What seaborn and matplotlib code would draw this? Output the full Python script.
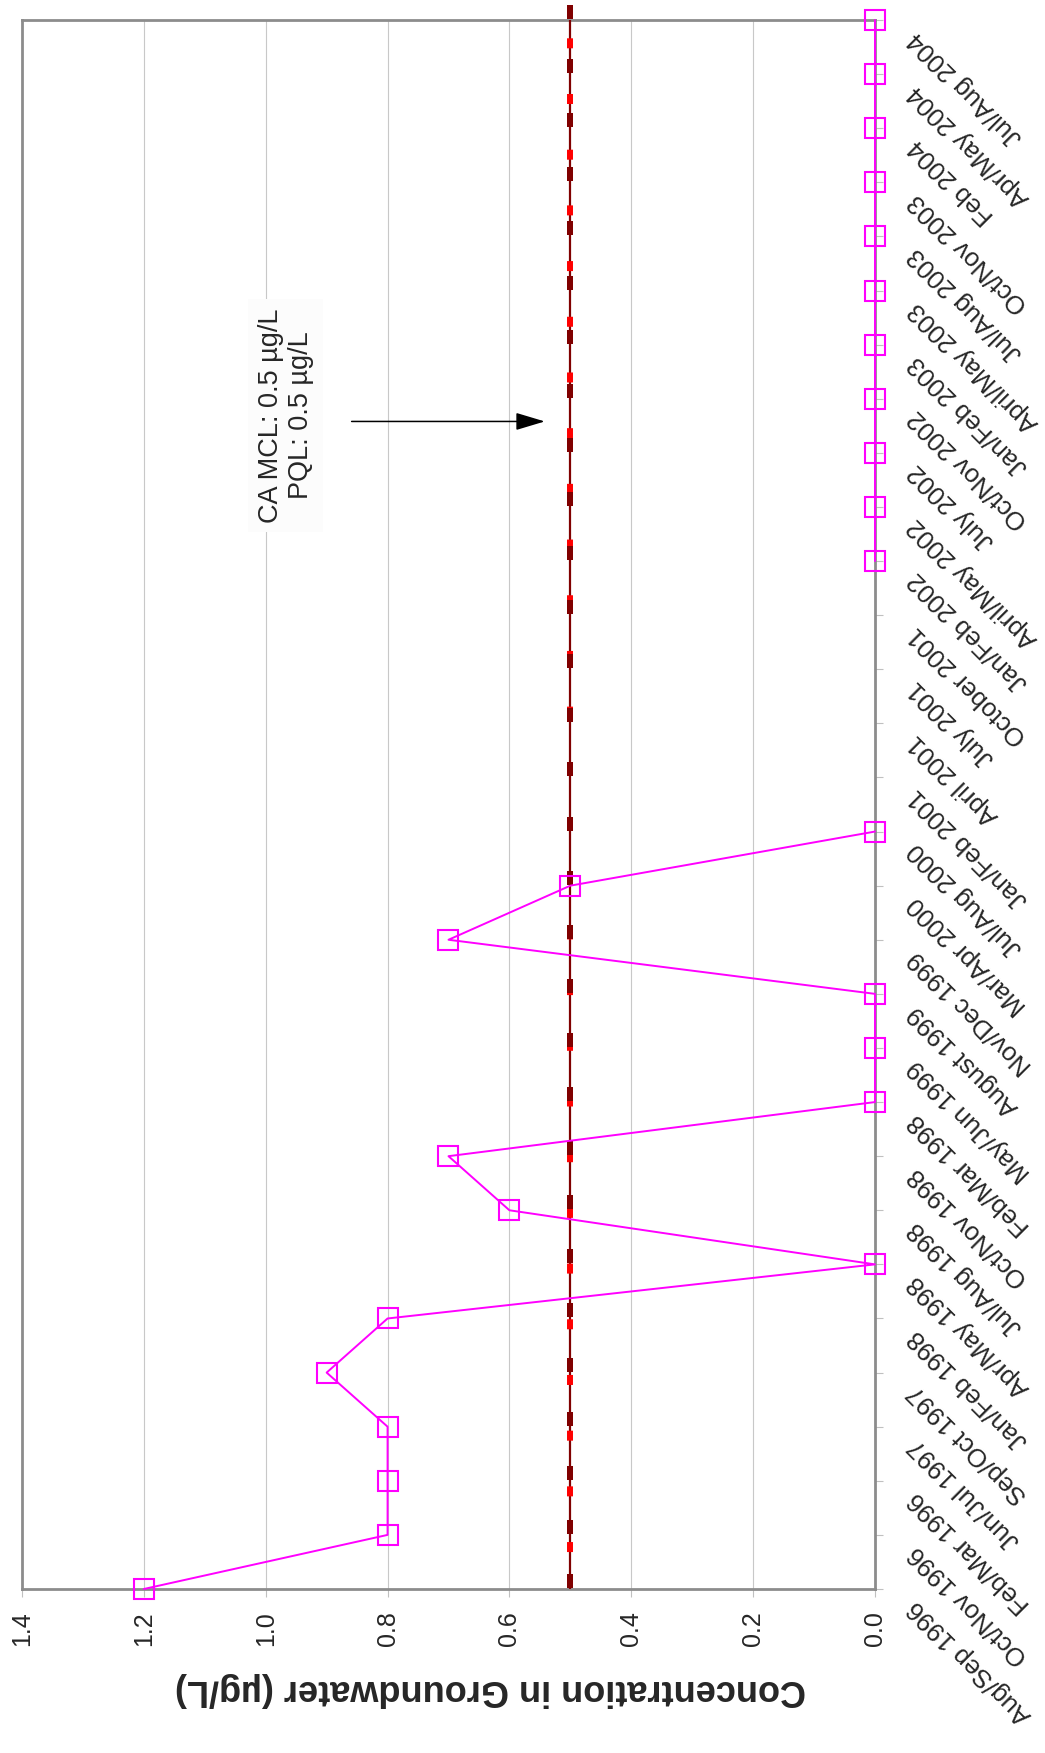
import numpy as np
import pandas as pd
import seaborn as sns
import matplotlib.pyplot as plt
from matplotlib.path import Path
from matplotlib.transforms import ScaledTranslation

sns.set_style('white')
plt.rcParams['font.family'] = ['Liberation Sans', 'DejaVu Sans']
plt.rcParams['lines.scale_dashes'] = False

# sampling events, oldest first (labels kept as printed on the chart)
periods = ['Aug/Sep 1996', 'Oct/Nov 1996', 'Feb/Mar 1996', 'Jun/Jul 1997', 'Sep/Oct 1997',
           'Jan/Feb 1998', 'Apr/May 1998', 'Jul/Aug 1998', 'Oct/Nov 1998', 'Feb/Mar 1998',
           'May/Jun 1999', 'August 1999', 'Nov/Dec 1999', 'Mar/Apr 2000', 'Jul/Aug 2000',
           'Jan/Feb 2001', 'April 2001', 'July 2001', 'October 2001', 'Jan/Feb 2002',
           'April/May 2002', 'July 2002', 'Oct/Nov 2002', 'Jan/Feb 2003', 'April/May 2003',
           'Jul/Aug 2003', 'Oct/Nov 2003', 'Feb 2004', 'Apr/May 2004', 'Jul/Aug 2004']
# concentration in µg/L, nan = not sampled
conc = [1.2, 0.8, 0.8, 0.8, 0.9, 0.8, 0.0, 0.6, 0.7, 0.0,
        0.0, 0.0, 0.7, 0.5, 0.0, np.nan, np.nan, np.nan, np.nan, 0.0,
        0.0, 0.0, 0.0, 0.0, 0.0, 0.0, 0.0, 0.0, 0.0, 0.0]
mcl_level = 0.5
pql_level = 0.5
value_ticks = [0.0, 0.2, 0.4, 0.6, 0.8, 1.0, 1.2, 1.4]

df = pd.DataFrame({'period': periods, 'conc': conc})
df['pos'] = np.arange(len(df))
df['seg'] = df['conc'].isna().cumsum()   # break the line at missing events
samples = df.dropna()
limits = pd.DataFrame({'pos': df['pos'], 'mcl': mcl_level, 'pql': pql_level})

fig = plt.figure(figsize=(10.45, 17.53), dpi=100)
ax = fig.add_axes([22/1045, 164/1753, 853/1045, 1569/1753])

# PQL - red dashes
sns.lineplot(data=limits, x='pql', y='pos', sort=False, estimator=None, color='#ff0000',
             lw=4.3, linestyle=(13.5, (7.2, 32.9)), legend=False, ax=ax, zorder=3)

# MCL - dark red line with bar markers
bar = Path([(-3.35, 0.65), (3.35, 0.65), (3.35, 15.15), (-3.35, 15.15), (-3.35, 0.65)],
           [Path.MOVETO, Path.LINETO, Path.LINETO, Path.LINETO, Path.CLOSEPOLY])
sns.lineplot(data=limits, x='mcl', y='pos', sort=False, estimator=None, color='#800000',
             lw=1.6, legend=False, ax=ax, zorder=2.8)
sns.lineplot(data=limits, x='mcl', y='pos', sort=False, estimator=None, color='#800000',
             lw=0, marker=bar, markersize=21.8, markeredgewidth=0, markerfacecolor='#800000',
             clip_on=False, legend=False, ax=ax, zorder=4)

# measured concentrations
sns.lineplot(data=samples, x='conc', y='pos', units='seg', estimator=None, sort=False,
             color='#ff00ff', lw=1.4, marker='s', markersize=14, markerfacecolor='none',
             markeredgecolor='#ff00ff', markeredgewidth=1.5, clip_on=False,
             legend=False, ax=ax, zorder=5)

ax.set_xlim(1.4, 0)
ax.set_ylim(0, len(periods) - 1)
ax.set_xlabel('')
ax.set_ylabel('')

ax.grid(axis='x', color='#c8c8c8', lw=0.8)
ax.grid(axis='y', visible=False)
for s in ax.spines.values():
    s.set_color('#8c8c8c')
    s.set_linewidth(2)

ax.tick_params(axis='x', bottom=True, direction='out', length=6, width=0.8,
               color='#c0c0c0', pad=10, labelsize=18, labelrotation=90)
ax.tick_params(axis='y', left=False, right=True, labelleft=False, labelright=True,
               direction='out', length=6, width=0.8, color='#c0c0c0', pad=21)
ax.set_xticks(value_ticks)
ax.set_xticklabels([f'{v:.1f}' for v in value_ticks])
ax.set_yticks(df['pos'])
ax.set_yticklabels(periods, rotation=135, ha='right', va='center',
                   rotation_mode='anchor', fontsize=18.5)
shift = ScaledTranslation(0, -0.15, fig.dpi_scale_trans)
for lbl in ax.get_yticklabels():
    lbl.set_transform(lbl.get_transform() + shift)

ax.text(0.967, 21.69, 'CA MCL: 0.5 µg/L\nPQL: 0.5 µg/L', rotation=90, ha='center',
        va='center', multialignment='center', fontsize=19.5, zorder=4,
        bbox=dict(boxstyle='square,pad=0.35', fc='#fcfcfc', ec='none'))
ax.annotate('', xy=(0.542, 21.58), xytext=(0.859, 21.58),
            arrowprops=dict(arrowstyle='-|>,head_length=0.9,head_width=0.27', color='black',
                            lw=1.1, mutation_scale=20, shrinkA=0, shrinkB=0))

fig.text(491/1045, 1 - 1690/1753, 'Concentration in Groundwater (µg/L)', rotation=180,
         ha='center', va='center', fontsize=26, fontweight='bold')

fig.savefig('out.png', dpi=100)
